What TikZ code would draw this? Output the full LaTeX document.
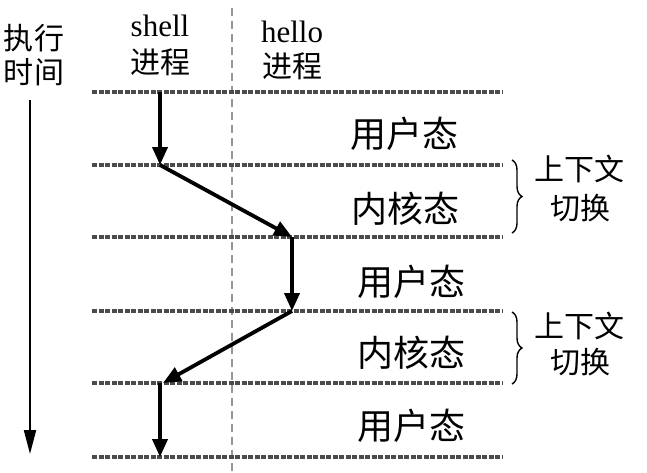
\documentclass[tikz,border=0pt]{standalone}
\usepackage{fontspec}
\setmainfont{Liberation Serif}
\newfontfamily\cjk{Noto Sans CJK SC}
\usepackage{xcolor}
\usetikzlibrary{arrows.meta,decorations.pathreplacing,positioning}
\definecolor{levelgray}{RGB}{75,75,75}
\definecolor{splitgray}{RGB}{150,150,150}

\tikzset{
  level/.style={draw=levelgray, line width=3.2pt, dash pattern=on 5pt off 1.5pt},
  split/.style={draw=splitgray, line width=1.8pt, dash pattern=on 8pt off 5pt},
  flow/.style={line width=3.8pt, -{Triangle[length=18pt,width=15pt]}},
  timeline/.style={line width=2pt, -{Triangle[length=24pt,width=12pt]}},
  statelabel/.style={font=\cjk\fontsize{36}{38}\selectfont, inner sep=0pt},
  smalllabel/.style={font=\cjk\fontsize{30}{32}\selectfont, inner sep=0pt},
  proclabel/.style={font=\fontsize{31}{33}\selectfont, inner sep=0pt},
  switchbrace/.style={decorate, decoration={brace, amplitude=10pt}, line width=1.4pt}
}

\begin{document}
\begin{tikzpicture}[x=1pt, y=-1pt]
\useasboundingbox (0,0) rectangle (647,472);

% column divider
\coordinate (divtop) at (232,8);
\coordinate (divbot) at (232,472);
\draw[split] (divtop) -- (divbot);

% level lines
\foreach \i/\y in {0/92,1/165,2/237,3/311,4/383,5/457} {
  \coordinate (l\i) at (92,\y);
  \coordinate (r\i) at (502,\y);
  \draw[level] (l\i) -- (r\i);
  \coordinate (sh\i) at (160,\y);
  \coordinate (he\i) at (292,\y);
}

% headings
\node[smalllabel] (exec) at (34,38) {执行};
\node[smalllabel] (time) at (34,72) {时间};
\node[proclabel] (shell) at (160,26) {shell};
\node[smalllabel] (shellproc) at (160,62) {进程};
\node[proclabel] (hello) at (292,32) {hello};
\node[smalllabel] (helloproc) at (292,66) {进程};

% time axis
\coordinate (tstart) at (30,100);
\coordinate (tend) at (30,454);
\draw[timeline] (tstart) -- (tend);

% states
\node[statelabel] (user1) at (404,134) {用户态};
\node[statelabel] (kern1) at (405,209) {内核态};
\node[statelabel] (user2) at (411,282) {用户态};
\node[statelabel] (kern2) at (411,353) {内核态};
\node[statelabel] (user3) at (411,426) {用户态};

% execution path
\coordinate (back) at (163,383);
\draw[flow] (sh0) -- (sh1);
\draw[flow] (sh1) -- (he2);
\draw[flow] (he2) -- (he3);
\draw[flow] (he3) -- (back);
\draw[flow] (sh4) -- (sh5);

% context switches
\coordinate (b1top) at (512,160);
\coordinate (b1bot) at (512,233);
\coordinate (b2top) at (512,312);
\coordinate (b2bot) at (512,384);
\draw[switchbrace] (b1top) -- (b1bot);
\draw[switchbrace] (b2top) -- (b2bot);
\node[smalllabel] (ctx1) at (579,169) {上下文};
\node[smalllabel] (sw1) at (580,208) {切换};
\node[smalllabel] (ctx2) at (579,326) {上下文};
\node[smalllabel] (sw2) at (580,362) {切换};
\end{tikzpicture}
\end{document}
